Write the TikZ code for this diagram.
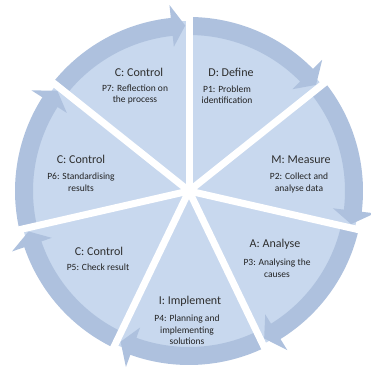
\documentclass[tikz,border=0pt]{standalone}
\usepackage{fontspec}
\setmainfont{Carlito}
\definecolor{segfill}{HTML}{C8D8EE}
\definecolor{ringfill}{HTML}{AEC1DE}
\definecolor{inktitle}{HTML}{2E2E2E}
\definecolor{inkdesc}{HTML}{222222}
\tikzset{
  segment/.style={fill=segfill, draw=none},
  ringarrow/.style={fill=ringfill, draw=none},
  divider/.style={draw=white, line width=7pt},
  stagetitle/.style={font=\fontsize{12}{14}\selectfont, text=inktitle, inner sep=0pt},
  stagedesc/.style={font=\fontsize{9.5}{11.5}\selectfont, text=inkdesc, align=center, inner sep=0pt}
}
\begin{document}
\begin{tikzpicture}[x=1pt,y=1pt]
  \useasboundingbox (0,0) rectangle (370,-371);
  \begin{scope}[shift={(189,-191)}]
    % pie segments and outer circular arrows, clockwise from the top
    \foreach \s in {90, 38.5714, -12.8571, -64.2857, -115.7143, -167.1429, 141.4286} {
      \pgfmathsetmacro{\e}{\s-51.4286}
      \pgfmathsetmacro{\b}{\e+6}
      \pgfmathsetmacro{\t}{\e+1.3}
      \path[segment] (0,0) -- (\s:170) arc[start angle=\s, end angle=\e, radius=170] -- cycle;
      \path[ringarrow] (\s:174) arc[start angle=\s, end angle=\b, radius=174]
        -- (\b:187) -- (\t:165.5) -- (\b:145) -- (\b:156)
        arc[start angle=\b, end angle=\s, radius=156] -- cycle;
    }
    % white gaps between the segments
    \foreach \a in {90, 38.5714, -12.8571, -64.2857, -115.7143, -167.1429, 141.4286} {
      \draw[divider] (0,0) -- (\a:196);
    }
  \end{scope}

  % labels
  \node[stagetitle] (t7) at (139,-72) {C: Control};
  \node[stagedesc]  (d7) at (135,-94.5) {P7: Reflection on\\the process};

  \node[stagetitle] (t1) at (231,-72) {D: Define};
  \node[stagedesc]  (d1) at (227,-94.5) {P1: Problem\\identification};

  \node[stagetitle] (t2) at (301,-160) {M: Measure};
  \node[stagedesc]  (d2) at (299,-183) {P2: Collect and\\analyse data};

  \node[stagetitle] (t3) at (275,-244) {A: Analyse};
  \node[stagedesc]  (d3) at (277,-268) {P3: Analysing the\\causes};

  \node[stagetitle] (t4) at (190,-301) {I: Implement};
  \node[stagedesc]  (d4) at (187,-330) {P4: Planning and\\implementing\\solutions};

  \node[stagetitle] (t5) at (99,-251) {C: Control};
  \node[stagedesc]  (d5) at (98,-267) {P5: Check result};

  \node[stagetitle] (t6) at (81,-159) {C: Control};
  \node[stagedesc]  (d6) at (81,-182) {P6: Standardising\\results};
\end{tikzpicture}
\end{document}
